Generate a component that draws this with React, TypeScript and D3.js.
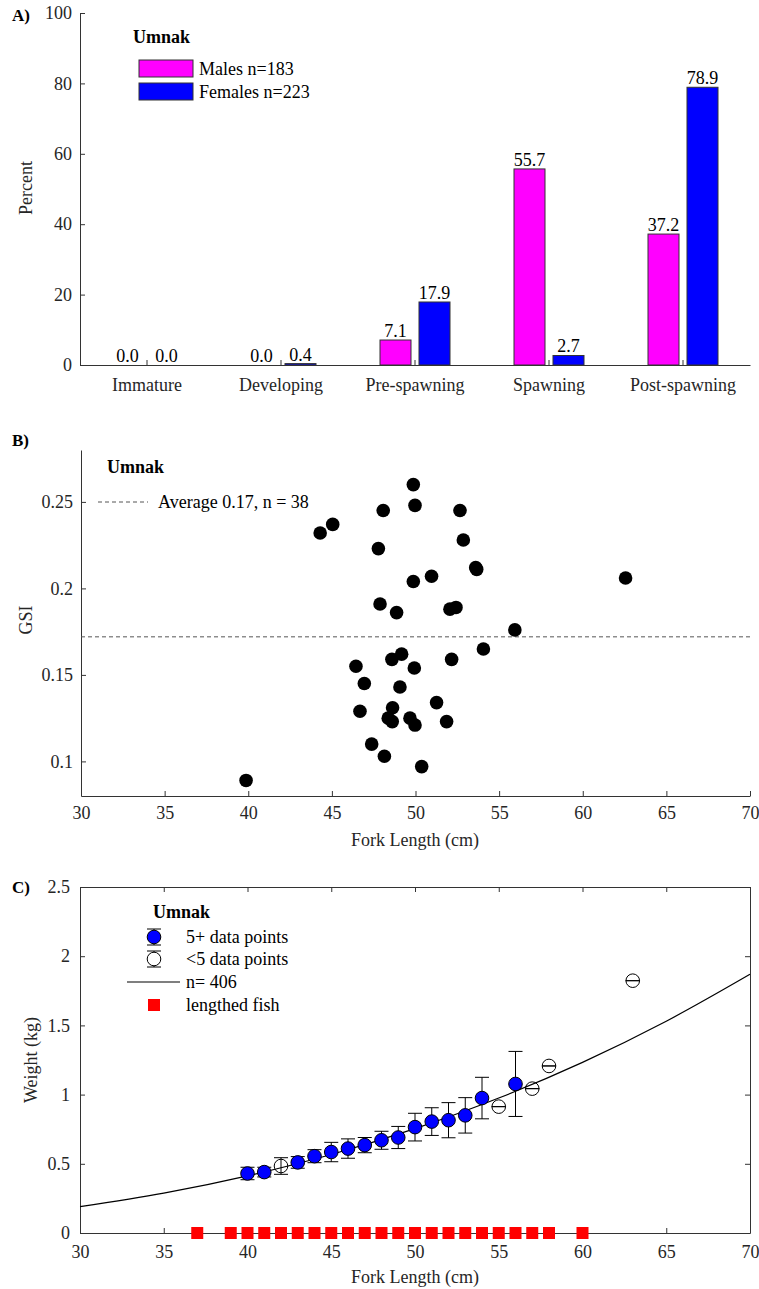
import React, { useRef, useEffect } from "react"
import * as d3 from "d3"

const W = 759
const H = 1289
const FONT = "'Liberation Serif', 'Times New Roman', serif"
const AXIS = "#333333"

// A) maturity stages
const stages = ["Immature", "Developing", "Pre-spawning", "Spawning", "Post-spawning"]
const sexes = ["Males n=183", "Females n=223"]
const malePct = [0.0, 0.0, 7.1, 55.7, 37.2]
const femalePct = [0.0, 0.4, 17.9, 2.7, 78.9]
const sexColors = ["#ff00ff", "#0000ff"]
const pctTicks = [0, 20, 40, 60, 80, 100]

// B) GSI vs fork length
const gsiLen = [44.3, 45.05, 48.07, 47.78, 47.88, 48.87, 46.44, 46.94, 46.68, 48.59, 49.17, 49.07, 48.63, 48.37, 48.61, 47.38, 48.14, 39.87, 49.87, 49.97, 52.66, 52.86, 53.66, 53.6, 50.96, 49.87, 62.56, 52.06, 52.42, 55.94, 54.06, 52.16, 49.93, 51.26, 49.67, 49.97, 51.86, 50.37]
const gsiVal = [0.232, 0.237, 0.245, 0.223, 0.191, 0.186, 0.155, 0.145, 0.129, 0.159, 0.162, 0.143, 0.131, 0.125, 0.123, 0.11, 0.103, 0.089, 0.26, 0.248, 0.245, 0.228, 0.211, 0.212, 0.207, 0.204, 0.206, 0.188, 0.189, 0.176, 0.165, 0.159, 0.154, 0.134, 0.125, 0.121, 0.123, 0.097]
const gsiAverage = 0.172
const gsiTicks = [0.1, 0.15, 0.2, 0.25]
const lenTicks = [30, 35, 40, 45, 50, 55, 60, 65, 70]

// C) weight at length
const lenMany = [40, 41, 43, 44, 45, 46, 47, 48, 49, 50, 51, 52, 53, 54, 56]
const wMany = [0.43, 0.44, 0.51, 0.555, 0.585, 0.61, 0.635, 0.67, 0.69, 0.765, 0.805, 0.815, 0.85, 0.975, 1.077]
const errMany = [0.045, 0.035, 0.042, 0.047, 0.07, 0.07, 0.055, 0.065, 0.08, 0.1, 0.1, 0.127, 0.128, 0.15, 0.235]
const lenFew = [42, 55, 57, 58, 63]
const wFew = [0.484, 0.913, 1.043, 1.207, 1.823]
const errFew = [0.06, 0, 0, 0, 0]
const fitLen = [30, 35, 40, 45, 50, 55, 60, 65, 70]
const fitW = [0.19, 0.288, 0.413, 0.567, 0.754, 0.975, 1.233, 1.53, 1.869]
const lengthedLen = [37, 39, 40, 41, 42, 43, 44, 45, 46, 47, 48, 49, 50, 51, 52, 53, 54, 55, 56, 57, 58, 60]
const wTicks = [0, 0.5, 1, 1.5, 2, 2.5]

function styleAxis(g, labelDy) {
  g.selectAll("path").attr("stroke", AXIS)
  g.selectAll("line").attr("stroke", AXIS)
  g.selectAll("text")
    .attr("fill", "#262626")
    .style("font-family", FONT)
    .style("font-size", "18px")
  if (labelDy != null) g.selectAll("text").attr("dy", null).attr("y", labelDy)
}

function Figure() {
  const ref = useRef(null)

  useEffect(() => {
    const svg = d3.select(ref.current)
    svg.selectAll("*").remove()

    const label = (x, y, t, opts = {}) =>
      svg
        .append("text")
        .attr("x", x)
        .attr("y", y)
        .attr("fill", opts.fill || "#000")
        .attr("text-anchor", opts.anchor || "start")
        .attr("font-weight", opts.bold ? "bold" : "normal")
        .attr("transform", opts.rotate ? `rotate(-90, ${x}, ${y})` : null)
        .style("font-family", FONT)
        .style("font-size", (opts.size || 18) + "px")
        .text(t)

    // ---------- A ----------
    const xA = d3.scaleBand().domain(stages).range([80, 750])
    const xSex = d3.scaleBand().domain(sexes).range([0, 70]).paddingInner(0.205)
    const yA = d3.scaleLinear().domain([0, 100]).range([365, 13])

    svg.append("g")
      .attr("transform", "translate(80,0)")
      .call(d3.axisLeft(yA).tickValues(pctTicks).tickSizeInner(-5).tickSizeOuter(0).tickPadding(8))
      .call(g => styleAxis(g, null))
    svg.append("g")
      .attr("transform", "translate(0,365)")
      .call(d3.axisBottom(xA).tickSizeInner(-5).tickSizeOuter(0))
      .call(g => styleAxis(g, 26))

    const rowsA = stages.map((s, i) => ({ stage: s, vals: [malePct[i], femalePct[i]] }))
    rowsA.forEach(r => {
      r.vals.forEach((v, j) => {
        const x0 = xA(r.stage) + xA.bandwidth() / 2 - 35 + xSex(sexes[j])
        if (v > 0) {
          svg.append("rect")
            .attr("x", x0)
            .attr("y", yA(v))
            .attr("width", xSex.bandwidth())
            .attr("height", yA(0) - yA(v))
            .attr("fill", sexColors[j])
            .attr("stroke", "#333")
            .attr("stroke-width", 1)
        }
        label(x0 + xSex.bandwidth() / 2, yA(v) - 3, v.toFixed(1), { anchor: "middle" })
      })
    })

    label(12, 21, "A)", { bold: true, size: 17 })
    label(32, 188, "Percent", { anchor: "middle", rotate: true, fill: "#262626" })
    label(133, 43, "Umnak", { bold: true })
    sexes.forEach((s, j) => {
      svg.append("rect")
        .attr("x", 139).attr("y", 60 + j * 23)
        .attr("width", 54).attr("height", 17)
        .attr("fill", sexColors[j]).attr("stroke", "#333")
      label(199, 75 + j * 23, s)
    })

    // ---------- B ----------
    const xB = d3.scaleLinear().domain([30, 70]).range([81, 750])
    const yB = d3.scaleLinear().domain([0.08, 0.28]).range([796, 450])

    svg.append("g")
      .attr("transform", "translate(81,0)")
      .call(d3.axisLeft(yB).tickValues(gsiTicks).tickFormat(d3.format("")).tickSizeInner(-5).tickSizeOuter(0).tickPadding(8))
      .call(g => styleAxis(g, null))
    svg.append("g")
      .attr("transform", "translate(0,796)")
      .call(d3.axisBottom(xB).tickValues(lenTicks).tickSizeInner(-5).tickSizeOuter(0))
      .call(g => styleAxis(g, 23))

    svg.append("line")
      .attr("x1", xB(30)).attr("x2", xB(70))
      .attr("y1", yB(gsiAverage)).attr("y2", yB(gsiAverage))
      .attr("stroke", "#555").attr("stroke-dasharray", "4,3")

    svg.append("g")
      .selectAll("circle")
      .data(gsiLen.map((l, i) => [l, gsiVal[i]]))
      .join("circle")
      .attr("cx", d => xB(d[0]))
      .attr("cy", d => yB(d[1]))
      .attr("r", 6.8)
      .attr("fill", "#000")

    label(12, 446, "B)", { bold: true, size: 17 })
    label(32, 620, "GSI", { anchor: "middle", rotate: true, fill: "#262626" })
    label(415, 846, "Fork Length (cm)", { anchor: "middle", fill: "#262626" })
    label(107, 473, "Umnak", { bold: true })
    svg.append("line")
      .attr("x1", 98).attr("x2", 148).attr("y1", 502).attr("y2", 502)
      .attr("stroke", "#555").attr("stroke-dasharray", "4,3")
    label(158, 508, `Average ${gsiAverage.toFixed(2)}, n = ${gsiLen.length}`)

    // ---------- C ----------
    const xC = d3.scaleLinear().domain([30, 70]).range([80, 750])
    const yC = d3.scaleLinear().domain([0, 2.5]).range([1233, 887])

    svg.append("g")
      .attr("transform", "translate(80,0)")
      .call(d3.axisLeft(yC).tickValues(wTicks).tickFormat(d3.format("")).tickSizeInner(-5).tickSizeOuter(0).tickPadding(10))
      .call(g => styleAxis(g, null))
    svg.append("g")
      .attr("transform", "translate(0,1233)")
      .call(d3.axisBottom(xC).tickValues(lenTicks).tickSizeInner(-5).tickSizeOuter(0))
      .call(g => styleAxis(g, 25))
    svg.append("g")
      .attr("transform", "translate(750,0)")
      .call(d3.axisRight(yC).tickValues(wTicks).tickFormat(() => "").tickSizeInner(-5).tickSizeOuter(0))
      .call(g => styleAxis(g, null))
    svg.append("g")
      .attr("transform", "translate(0,887)")
      .call(d3.axisTop(xC).tickValues(lenTicks).tickFormat(() => "").tickSizeInner(-5).tickSizeOuter(0))
      .call(g => styleAxis(g, null))

    const line = d3.line().x(d => xC(d[0])).y(d => yC(d[1])).curve(d3.curveMonotoneX)
    svg.append("path")
      .attr("d", line(fitLen.map((l, i) => [l, fitW[i]])))
      .attr("fill", "none").attr("stroke", "#000").attr("stroke-width", 1.2)

    const errorBars = (lens, ws, errs) => {
      const g = svg.append("g").attr("stroke", "#000").attr("stroke-width", 1)
      lens.forEach((l, i) => {
        const x = xC(l)
        const y1 = yC(ws[i] + errs[i])
        const y2 = yC(ws[i] - errs[i])
        g.append("line").attr("x1", x).attr("x2", x).attr("y1", y1).attr("y2", y2)
        g.append("line").attr("x1", x - 7).attr("x2", x + 7).attr("y1", y1).attr("y2", y1)
        g.append("line").attr("x1", x - 7).attr("x2", x + 7).attr("y1", y2).attr("y2", y2)
      })
    }
    errorBars(lenMany, wMany, errMany)
    errorBars(lenFew, wFew, errFew)

    svg.append("g")
      .selectAll("circle")
      .data(lenMany.map((l, i) => [l, wMany[i]]))
      .join("circle")
      .attr("cx", d => xC(d[0])).attr("cy", d => yC(d[1]))
      .attr("r", 6.8).attr("fill", "#0000ff").attr("stroke", "#000")
    svg.append("g")
      .selectAll("circle")
      .data(lenFew.map((l, i) => [l, wFew[i]]))
      .join("circle")
      .attr("cx", d => xC(d[0])).attr("cy", d => yC(d[1]))
      .attr("r", 6.8).attr("fill", "none").attr("stroke", "#000")

    svg.append("g")
      .selectAll("rect")
      .data(lengthedLen)
      .join("rect")
      .attr("x", d => xC(d) - 6).attr("y", yC(0) - 6)
      .attr("width", 12).attr("height", 12)
      .attr("fill", "#ff0000")

    label(12, 893, "C)", { bold: true, size: 17 })
    label(37, 1060, "Weight (kg)", { anchor: "middle", rotate: true, fill: "#262626" })
    label(415, 1283, "Fork Length (cm)", { anchor: "middle", fill: "#262626" })

    // legend C
    label(153, 918, "Umnak", { bold: true })
    const lg = svg.append("g").attr("stroke", "#000")
    ;[937, 959].forEach((cy, k) => {
      lg.append("line").attr("x1", 154).attr("x2", 154).attr("y1", cy - 8).attr("y2", cy + 8)
      lg.append("line").attr("x1", 147).attr("x2", 161).attr("y1", cy - 8).attr("y2", cy - 8)
      lg.append("line").attr("x1", 147).attr("x2", 161).attr("y1", cy + 8).attr("y2", cy + 8)
      lg.append("circle").attr("cx", 154).attr("cy", cy).attr("r", 6.8)
        .attr("fill", k === 0 ? "#0000ff" : "#fff")
    })
    lg.append("line").attr("x1", 127).attr("x2", 180).attr("y1", 982).attr("y2", 982).attr("stroke-width", 1.2)
    svg.append("rect").attr("x", 148).attr("y", 999).attr("width", 12).attr("height", 12).attr("fill", "#ff0000")
    label(186, 943, "5+ data points")
    label(186, 965, "<5 data points")
    label(186, 988, "n= 406")
    label(186, 1011, "lengthed fish")
  }, [])

  return <svg ref={ref} width={W} height={H} style={{ position: "absolute", left: 0, top: 0, background: "#fff" }}></svg>
}

export default function App() {
  return <Figure />
}
